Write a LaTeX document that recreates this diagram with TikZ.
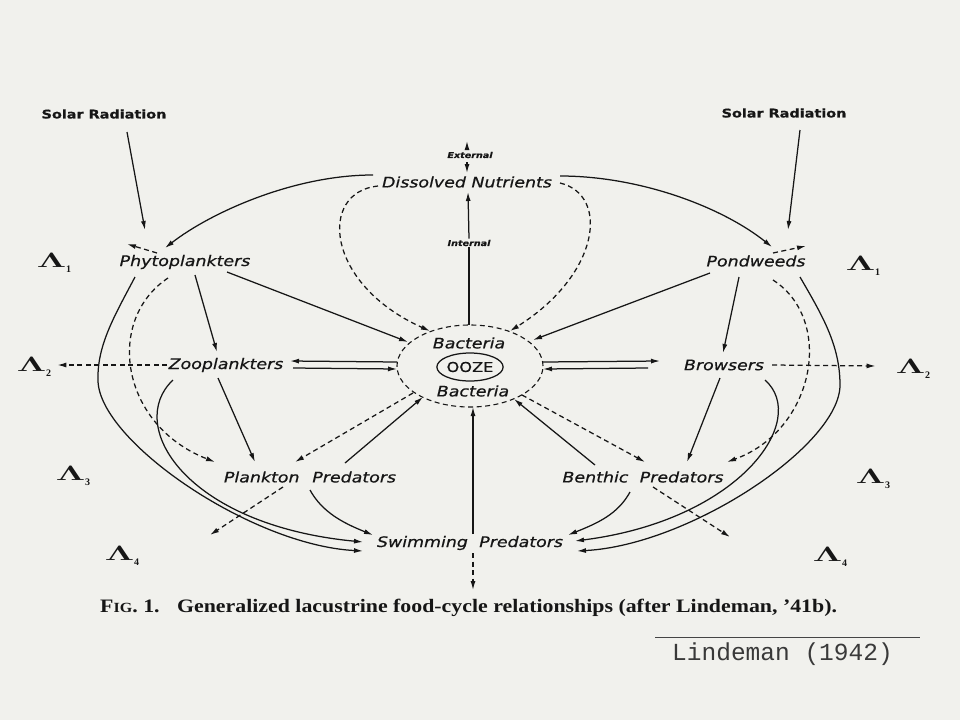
\documentclass[tikz,border=0pt]{standalone}
\usepackage{fontspec}
\setmainfont{Liberation Serif}
\newfontfamily\lett{DejaVu Sans}[FakeStretch=1.2, FakeBold=0.6]
\newfontfamily\typew{Liberation Mono}
\usetikzlibrary{arrows.meta,shapes.geometric,calc}
\definecolor{paper}{RGB}{241,241,237}
\definecolor{ink}{RGB}{22,22,22}
\newcommand{\lamb}[1]{\scalebox{1.8}[1]{\boldmath$\Lambda$}\raisebox{-5pt}{\fontsize{10}{10}\selectfont\bfseries #1}}
\begin{document}
\begin{tikzpicture}[x=1pt,y=-1pt,
  every node/.style={text=ink},
  lab/.style={font=\lett\itshape\fontsize{14.5}{16}\selectfont, inner sep=1pt},
  smalllab/.style={font=\lett\bfseries\itshape\fontsize{8}{10}\selectfont, inner sep=1pt},
  sol/.style={font=\lett\bfseries\fontsize{12}{13}\selectfont, inner sep=1pt},
  lam/.style={font=\fontsize{20}{20}\selectfont, inner sep=0pt},
  arr/.style={draw=ink, line width=1.25pt, -{Latex[length=9pt,width=5pt]}},
  darr/.style={arr, dash pattern=on 5pt off 3.5pt},
  sline/.style={draw=ink, line width=1.25pt},
  dline/.style={draw=ink, line width=1.1pt, dash pattern=on 5pt off 3.5pt}
]
\fill[paper] (0,0) rectangle (960,720);
\useasboundingbox (0,0) rectangle (960,720);

% ---- nodes ----
\node[sol] (solL) at (104,114) {Solar Radiation};
\node[sol] (solR) at (784,113) {Solar Radiation};
\node[smalllab] (ext) at (470,155) {External};
\node[lab] (dn) at (467,182) {Dissolved Nutrients};
\node[smalllab] (int) at (469,243) {Internal};
\node[lab] (phy) at (185,262) {Phytoplankters};
\node[lab] (pond) at (756,261) {Pondweeds};
\node[lab] (zoo) at (226,365) {Zooplankters};
\node[lab] (brow) at (724,365) {Browsers};
\node[lab] (bac1) at (469,343) {Bacteria};
\node[ellipse, draw=ink, line width=1.25pt, inner sep=0pt, minimum width=58pt, minimum height=28pt,
      font=\lett\fontsize{13.5}{14}\selectfont] (ooze) at (470,367) {OOZE};
\node[lab] (bac2) at (473,391) {Bacteria};
\node[ellipse, dline, minimum width=146pt, minimum height=82pt] (circ) at (470,366) {};
\node[lab] (pp) at (310,477) {Plankton\hspace{0.5em} Predators};
\node[lab] (bp) at (643,477) {Benthic\hspace{0.4em} Predators};
\node[lab] (sp) at (470,543) {Swimming\hspace{0.4em} Predators};

\node[lam] (l1L) at (54,263) {\lamb{1}};
\node[lam] (l2L) at (34,367) {\lamb{2}};
\node[lam] (l3L) at (73,476) {\lamb{3}};
\node[lam] (l4L) at (122,556) {\lamb{4}};
\node[lam] (l1R) at (863,266) {\lamb{1}};
\node[lam] (l2R) at (913,369) {\lamb{2}};
\node[lam] (l3R) at (873,479) {\lamb{3}};
\node[lam] (l4R) at (830,557) {\lamb{4}};

\coordinate (extTop) at (467,141);
\coordinate (pL) at (127,244);
\coordinate (pR) at (806,246);
\coordinate (ppOut) at (210,535);
\coordinate (bpOut) at (730,537);
\coordinate (spOut) at (473,590);

% ---- connectors ----
\draw[arr] ($(solL)+(23,18)$) -- ($(phy)+(-40,-32)$);
\draw[arr] ($(solR)+(16,17)$) -- ($(pond)+(32,-31)$);

\draw[arr] ($(ext)+(-3,-7)$) -- (extTop);
\draw[arr] ($(ext)+(-3,7)$) -- ($(dn)+(0,-9)$);
\draw[sline] ($(circ)+(-1,-41)$) -- (int.south);
\draw[arr] (int.north) -- ($(dn)+(1,10)$);

\draw[arr] ($(dn)+(-94,-7)$) .. controls +(-80,0) and +(45,-35) .. ($(phy)+(-20,-14)$);
\draw[arr] ($(dn)+(93,-6)$) .. controls +(80,0) and +(-50,-40) .. ($(pond)+(16,-14)$);

\draw[darr] ($(dn)+(-89,4)$) .. controls +(-60,6) and +(-105,-47) .. ($(circ)+(-40,-35)$);
\draw[darr] ($(dn)+(93,1)$) .. controls +(50,12) and +(90,-56) .. ($(circ)+(40,-35)$);

\draw[darr] ($(phy)+(-28,-9)$) -- (pL);
\draw[darr] ($(pond)+(17,-8)$) -- (pR);

\draw[arr] ($(phy)+(42,10)$) -- ($(circ)+(-62,-24)$);
\draw[arr] ($(pond)+(-46,12)$) -- ($(circ)+(63,-26)$);

\draw[arr] ($(phy)+(10,13)$) -- ($(zoo)+(-9,-13)$);
\draw[arr] ($(pond)+(-17,16)$) -- ($(brow)+(-1,-12)$);

\draw[arr] ($(circ)+(-73,-4)$) -- ($(zoo)+(64,-4)$);
\draw[arr] ($(zoo)+(67,3)$) -- ($(circ)+(-73,3)$);
\draw[arr] ($(circ)+(73,-4)$) -- ($(brow)+(-64,-4)$);
\draw[arr] ($(brow)+(-76,3)$) -- ($(circ)+(73,3)$);

\draw[darr] ($(zoo)+(-59,0)$) -- ($(l2L.east)+(6,-2)$);
\draw[darr] ($(brow)+(48,0)$) -- ($(l2R.west)+(-20,-3)$);

\draw[darr] ($(phy)+(-17,16)$) .. controls +(-63,42) and +(-95,-37) .. ($(pp)+(-95,-15)$);
\draw[darr] ($(pond)+(17,19)$) .. controls +(62,40) and +(88,-32) .. ($(bp)+(84,-15)$);

\draw[arr] ($(phy)+(-50,15)$) .. controls +(-20,38) and (97,345) .. (98,380)
   .. controls (98,440) and (250,545) .. ($(sp)+(-107,8)$);
\draw[arr] ($(pond)+(44,16)$) .. controls +(22,38) and (840,345) .. (840,385)
   .. controls (840,445) and (690,545) .. ($(sp)+(107,8)$);

\draw[arr] ($(zoo)+(-53,15)$) .. controls (125,425) and (185,525) .. ($(sp)+(-107,-1)$);
\draw[arr] ($(brow)+(41,15)$) .. controls (810,420) and (740,520) .. ($(sp)+(105,-2)$);

\draw[arr] ($(zoo)+(-8,13)$) -- ($(pp)+(-55,-15)$);
\draw[arr] ($(brow)+(-4,13)$) -- ($(bp)+(44,-15)$);

\draw[arr] ($(pp)+(0,13)$) .. controls +(12,22) and +(-30,-12) .. ($(sp)+(-97,-8)$);
\draw[arr] ($(bp)+(-13,15)$) .. controls +(-12,22) and +(30,-12) .. ($(sp)+(98,-8)$);

\draw[darr] ($(pp)+(-27,10)$) -- (ppOut);
\draw[darr] ($(bp)+(10,10)$) -- (bpOut);

\draw[darr] ($(circ)+(-57,27)$) -- ($(pp)+(-15,-15)$);
\draw[arr] ($(pp)+(35,-14)$) -- ($(circ)+(-47,31)$);
\draw[darr] ($(circ)+(52,29)$) -- ($(bp)+(2,-15)$);
\draw[arr] ($(bp)+(-48,-12)$) -- ($(circ)+(44,33)$);

\draw[arr] ($(sp)+(3,-9)$) -- ($(circ)+(3,41)$);
\draw[darr] ($(sp)+(3,10)$) -- (spOut);

% ---- caption ----
\node[anchor=west, inner sep=0pt, font=\bfseries\fontsize{19}{22}\selectfont] (cap) at (100,608)
  {\scalebox{1.15}[1]{F{\fontsize{14}{16}\selectfont IG}. 1.\hspace{0.8em}Generalized lacustrine food-cycle relationships (after Lindeman, '41b).}};
\node[anchor=west, inner sep=0pt, font=\typew\fontsize{24.5}{26}\selectfont, text=ink!85] (auth) at (672,654) {Lindeman (1942)};
\draw[draw=ink!80, line width=1.4pt] ($(auth.north west)+(-17,-5)$) -- ($(auth.north east)+(27,-5)$);
\end{tikzpicture}
\end{document}
